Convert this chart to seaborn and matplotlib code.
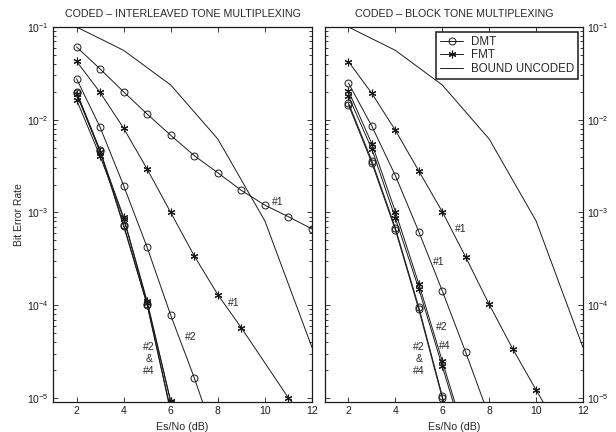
import numpy as np
import pandas as pd
import seaborn as sns
import matplotlib
matplotlib.use("Agg")
import matplotlib.pyplot as plt
from matplotlib.ticker import LogLocator, NullFormatter

sns.set_theme(style="ticks")
plt.rcParams['font.family'] = ['Liberation Sans', 'DejaVu Sans']
plt.rcParams['mathtext.fontset'] = 'custom'
plt.rcParams['mathtext.rm'] = 'Liberation Sans'
plt.rcParams['mathtext.it'] = 'Liberation Sans:italic'

# bound (uncoded), same in both panels
bound_x = [2, 4, 6, 8, 10, 12]
bound_y = [0.1, 0.056, 0.0237, 0.0062, 8.1e-4, 3.5e-5]

# interleaved tone multiplexing
il_dmt1_x = [2, 3, 4, 5, 6, 7, 8, 9, 10, 11, 12]
il_dmt1_y = [0.061, 0.0353, 0.020, 0.0115, 6.8e-3, 4.1e-3, 2.68e-3, 1.73e-3, 1.2e-3, 9.0e-4, 6.65e-4]
il_dmt2_x = [2, 3, 4, 5, 6, 7, 8]
il_dmt2_y = [0.0277, 8.3e-3, 1.95e-3, 4.2e-4, 7.8e-5, 1.65e-5, 3.0e-6]
il_fmt1_x = [2, 3, 4, 5, 6, 7, 8, 9, 11, 12]
il_fmt1_y = [0.0427, 0.0197, 8.1e-3, 2.93e-3, 1.0e-3, 3.4e-4, 1.3e-4, 5.7e-5, 1.0e-5, 5.0e-6]
il_bx = [2, 3, 4, 5, 6]
il_dmta_y = [0.0199, 4.7e-3, 7.4e-4, 1.0e-4, 7.5e-6]
il_dmtb_y = [0.0195, 4.6e-3, 7.1e-4, 1.02e-4, 7.0e-6]
il_fmta_y = [0.0189, 4.5e-3, 8.9e-4, 1.1e-4, 9.2e-6]
il_fmtb_y = [0.0164, 4.05e-3, 8.6e-4, 1.06e-4, 9.1e-6]

# block tone multiplexing
bl_dmt1_x = [2, 3, 4, 5, 6, 7, 8]
bl_dmt1_y = [0.0249, 8.5e-3, 2.5e-3, 6.2e-4, 1.43e-4, 3.1e-5, 6.3e-6]
bl_fmt1_x = [2, 3, 4, 5, 6, 7, 8, 9, 10, 11]
bl_fmt1_y = [0.0424, 0.0192, 7.7e-3, 2.8e-3, 1.02e-3, 3.3e-4, 1.02e-4, 3.4e-5, 1.22e-5, 4.5e-6]
bl_bx = [2, 3, 4, 5, 6, 7]
bl_dmt2_y = [0.0152, 3.6e-3, 6.8e-4, 9.5e-5, 1.05e-5, 1.0e-6]
bl_dmt4_y = [0.0145, 3.4e-3, 6.5e-4, 9.0e-5, 1.0e-5, 9.0e-7]
bl_fmt2_y = [0.0205, 5.5e-3, 1.02e-3, 1.7e-4, 2.5e-5, 3.7e-6]
bl_fmt4_y = [0.018, 4.8e-3, 8.7e-4, 1.5e-4, 2.2e-5, 3.2e-6]

il_notes = [("#1", 10.55, 1.3e-3), ("#1", 8.67, 1.05e-4), ("#2", 6.83, 4.5e-5),
            ("#2\n&\n#4", 5.07, 2.6e-5)]
bl_notes = [("#1", 6.79, 6.6e-4), ("#1", 5.86, 2.9e-4), ("#2", 5.96, 5.8e-5),
            ("#4", 6.1, 3.6e-5), ("#2\n&\n#4", 5.0, 2.6e-5)]

fig = plt.figure(figsize=(6.16, 4.32), dpi=100)
axl = fig.add_axes([53 / 616, 30 / 432, 259 / 616, 375 / 432])
axr = fig.add_axes([325 / 616, 30 / 432, 258 / 616, 375 / 432])

lw = 0.7
dmt_kw = dict(marker='o', ms=5, mfc='none', mec='k', mew=0.7)
fmt_kw = dict(marker=(6, 2, 0), ms=5.5, mec='k', mew=0.8)


def draw(ax, x, y, kw=None, label=None):
    kw = kw or {}
    sns.lineplot(x=x, y=y, ax=ax, color='k', lw=lw, estimator=None, sort=False,
                 label=label, **kw)


# left panel
draw(axl, bound_x, bound_y)
draw(axl, il_dmt1_x, il_dmt1_y, dmt_kw)
draw(axl, il_dmt2_x, il_dmt2_y, dmt_kw)
draw(axl, il_fmt1_x, il_fmt1_y, fmt_kw)
draw(axl, il_bx, il_dmta_y, dmt_kw)
draw(axl, il_bx, il_dmtb_y, dmt_kw)
draw(axl, il_bx, il_fmta_y, fmt_kw)
draw(axl, il_bx, il_fmtb_y, fmt_kw)

# right panel
draw(axr, bl_dmt1_x, bl_dmt1_y, dmt_kw, label="DMT")
draw(axr, bl_fmt1_x, bl_fmt1_y, fmt_kw, label="FMT")
draw(axr, bound_x, bound_y, label="BOUND UNCODED")
draw(axr, bl_bx, bl_dmt2_y, dmt_kw)
draw(axr, bl_bx, bl_dmt4_y, dmt_kw)
draw(axr, bl_bx, bl_fmt2_y, fmt_kw)
draw(axr, bl_bx, bl_fmt4_y, fmt_kw)

for ax, title, notes in [(axl, "CODED \u2013 INTERLEAVED TONE MULTIPLEXING", il_notes),
                         (axr, "CODED \u2013 BLOCK TONE MULTIPLEXING", bl_notes)]:
    ax.set_yscale('log')
    ax.set_xlim(1, 12)
    ax.set_ylim(9.05e-6, 1e-1)
    ax.set_xticks([2, 4, 6, 8, 10, 12])
    ax.yaxis.set_major_locator(LogLocator(base=10, numticks=10))
    ax.yaxis.set_minor_locator(LogLocator(base=10, subs=np.arange(2, 10), numticks=20))
    ax.yaxis.set_minor_formatter(NullFormatter())
    ax.tick_params(which='both', direction='in', top=True, right=True, left=True,
                   bottom=True, labelsize=7.5, colors='k', width=0.6, pad=3)
    ax.tick_params(which='major', length=3.5)
    ax.tick_params(which='minor', length=2)
    for s in ax.spines.values():
        s.set_linewidth(0.9)
        s.set_color('k')
    ax.set_title(title, fontsize=7.7, pad=7)
    ax.set_xlabel("Es/No (dB)", fontsize=7.7, labelpad=4)
    for txt, tx, ty in notes:
        ax.text(tx, ty, txt, fontsize=7.5, ha='center', va='center', linespacing=1.25)

axl.set_ylabel("Bit Error Rate", fontsize=7.5, labelpad=2)
axr.set_ylabel("")
axr.tick_params(axis='y', which='both', labelleft=False, labelright=True)

leg = axr.legend(loc='upper right', fontsize=8.3, frameon=True, fancybox=False,
                 framealpha=1, edgecolor='k', handlelength=2.0, borderpad=0.35,
                 labelspacing=0.15, handletextpad=0.7, borderaxespad=0.4)
leg.get_frame().set_linewidth(1.1)

fig.savefig("out.png", dpi=100)
